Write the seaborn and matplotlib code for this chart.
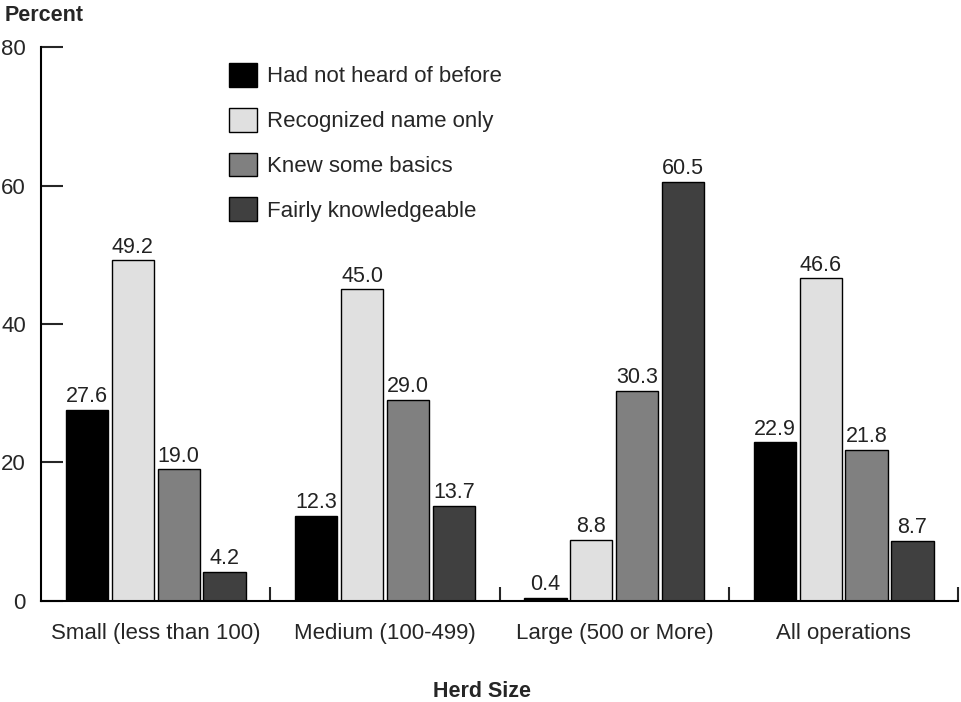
import pandas as pd
import seaborn as sns
from matplotlib import pyplot as plt

groups = ["Small (less than 100)", "Medium (100-499)", "Large (500 or More)", "All operations"]
levels = ["Had not heard of before", "Recognized name only", "Knew some basics", "Fairly knowledgeable"]
not_heard = [27.6, 12.3, 0.4, 22.9]
name_only = [49.2, 45.0, 8.8, 46.6]
basics = [19.0, 29.0, 30.3, 21.8]
knowledgeable = [4.2, 13.7, 60.5, 8.7]
colors = ["#000000", "#e0e0e0", "#808080", "#404040"]

rows = []
for lev, vals in zip(levels, [not_heard, name_only, basics, knowledgeable]):
    for g, v in zip(groups, vals):
        rows.append({"Herd": g, "Level": lev, "Percent": v})
df = pd.DataFrame(rows)

sns.set_style("white")
plt.rcParams['font.family'] = ['Liberation Sans', 'DejaVu Sans']

fig = plt.figure(figsize=(9.61, 7.02), dpi=100)
ax = fig.add_axes([0.0427, 0.1439, 0.9545, 0.7891])

sns.barplot(data=df, x="Herd", y="Percent", hue="Level", hue_order=levels,
            palette=colors, order=groups, width=0.8, gap=0.08,
            edgecolor="black", linewidth=1, saturation=1, ax=ax)

for c in ax.containers:
    ax.bar_label(c, fmt="%.1f", padding=2, fontsize=15.5, color="#222222")

ax.set_ylim(0, 80)
ax.set_xlim(-0.5, 3.5)
ax.set_yticks([0, 20, 40, 60, 80])
ax.set_xticks([0.5, 1.5, 2.5, 3.5], minor=True)
ax.tick_params(axis="y", direction="in", length=16, width=1.5, pad=11, labelsize=16, left=True)
ax.tick_params(axis="x", which="major", length=0, pad=16, labelsize=16)
ax.tick_params(axis="x", which="minor", direction="in", length=10, width=1.5, bottom=True)
for s in ["top", "right"]:
    ax.spines[s].set_visible(False)
for s in ["left", "bottom"]:
    ax.spines[s].set_linewidth(1.5)
    ax.spines[s].set_color("black")
ax.set_xlabel("")
ax.set_ylabel("")

ax.legend(loc="upper left", bbox_to_anchor=(0.205, 0.971), frameon=False,
          fontsize=16, handlelength=1.27, handleheight=1.27, labelspacing=0.92,
          handletextpad=0.45, borderpad=0, borderaxespad=0)

fig.text(0.005, 0.978, "Percent", fontsize=15.5, fontweight="bold", va="center", ha="left")
fig.text(0.502, 0.015, "Herd Size", fontsize=15.5, fontweight="bold", va="center", ha="center")

fig.savefig("out.png", dpi=100)
